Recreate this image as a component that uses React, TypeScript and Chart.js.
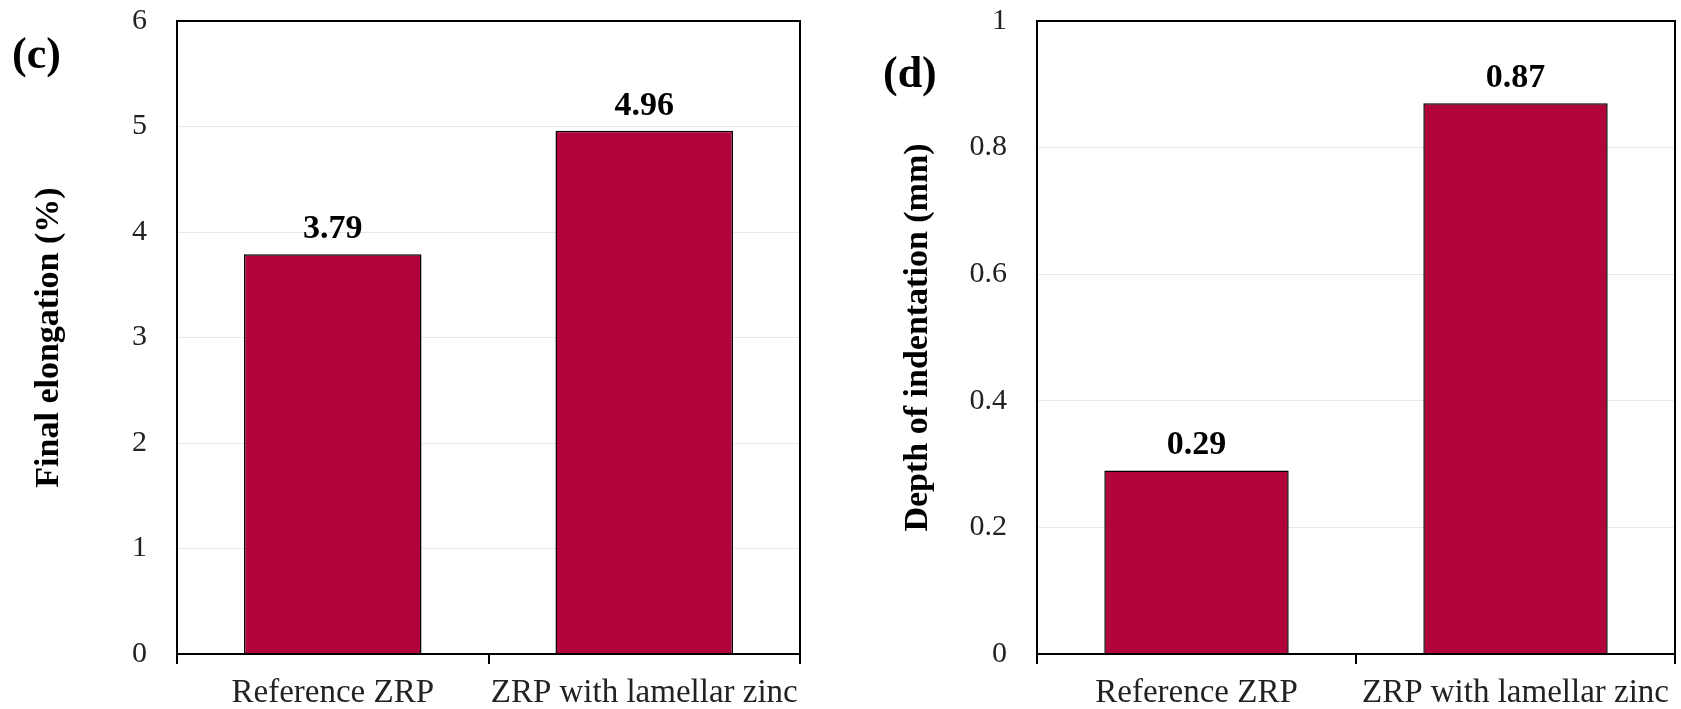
import React, { useEffect, useRef } from "react";
import { Chart, registerables } from "chart.js";

Chart.register(...registerables);

const categories = ["Reference ZRP", "ZRP with lamellar zinc"];
const elongationValues = [3.79, 4.96];
const indentationValues = [0.29, 0.87];
const elongationLabels = ["3.79", "4.96"];
const indentationLabels = ["0.29", "0.87"];

const SERIF = '"Liberation Serif", "Times New Roman", serif';
const BAR_COLOR = "#B0043A";

const framePlugin = {
  id: "frame",
  afterDraw(chart: any) {
    const { ctx, chartArea } = chart;
    ctx.save();
    ctx.strokeStyle = "#000";
    ctx.lineWidth = 2;
    ctx.strokeRect(chartArea.left, chartArea.top, chartArea.right - chartArea.left, chartArea.bottom - chartArea.top);
    ctx.restore();
  },
};

const valueLabelPlugin = {
  id: "valueLabels",
  afterDatasetsDraw(chart: any, _args: any, opts: any) {
    const { ctx } = chart;
    const meta = chart.getDatasetMeta(0);
    ctx.save();
    ctx.font = `bold 34px ${SERIF}`;
    ctx.fillStyle = "#000";
    ctx.textAlign = "center";
    ctx.textBaseline = "alphabetic";
    meta.data.forEach((bar: any, i: number) => {
      ctx.fillText(opts.labels[i], bar.x, bar.y - 16);
    });
    ctx.restore();
  },
};

const panelPlugin = {
  id: "panelLetter",
  afterDraw(chart: any, _args: any, opts: any) {
    const { ctx } = chart;
    ctx.save();
    ctx.font = `bold 44px ${SERIF}`;
    ctx.fillStyle = "#000";
    ctx.textAlign = "left";
    ctx.textBaseline = "alphabetic";
    ctx.fillText(opts.text, opts.x, opts.y);
    ctx.restore();
  },
};

type PanelProps = {
  width: number;
  values: number[];
  labels: string[];
  title: string;
  max: number;
  step: number;
  axisWidth: number;
  padRight: number;
  titlePad: number;
  barPct: number;
  letter: string;
  letterX: number;
  letterY: number;
};

function Panel(p: PanelProps) {
  const ref = useRef<HTMLCanvasElement | null>(null);
  useEffect(() => {
    if (!ref.current) return;
    const chart = new Chart(ref.current, {
      type: "bar",
      data: {
        labels: categories,
        datasets: [
          {
            data: p.values,
            backgroundColor: BAR_COLOR,
            borderColor: "#000",
            borderWidth: 1.5,
            barPercentage: p.barPct,
            categoryPercentage: 1,
          },
        ],
      },
      options: {
        responsive: false,
        animation: false,
        devicePixelRatio: 1,
        layout: { padding: { top: 21, right: p.padRight, left: 0, bottom: 0 } },
        plugins: {
          legend: { display: false },
          tooltip: { enabled: false },
          valueLabels: { labels: p.labels },
          panelLetter: { text: p.letter, x: p.letterX, y: p.letterY },
        } as any,
        scales: {
          x: {
            offset: true,
            grid: {
              display: true,
              drawOnChartArea: false,
              drawTicks: true,
              tickLength: 10,
              color: "#000",
              lineWidth: 2,
              offset: true,
            },
            border: { display: true, color: "#000", width: 2 },
            ticks: {
              font: { family: SERIF, size: 33 },
              color: "#222",
              padding: 10,
              maxRotation: 0,
              minRotation: 0,
              autoSkip: false,
            },
            afterFit: (scale: any) => {
              scale.height = 55;
              scale.paddingLeft = 0;
              scale.paddingRight = 0;
            },
          },
          y: {
            min: 0,
            max: p.max,
            ticks: {
              stepSize: p.step,
              font: { family: SERIF, size: 30 },
              color: "#222",
              padding: 30,
              callback: (v: any) => String(parseFloat(Number(v).toFixed(2))),
            },
            grid: { color: "#e8e8e8", lineWidth: 1, drawTicks: false },
            border: { display: true, color: "#000", width: 2 },
            title: {
              display: true,
              text: p.title,
              font: { family: SERIF, size: 34, weight: "bold" },
              color: "#000",
              padding: { top: p.titlePad, bottom: 0 },
            },
            afterFit: (scale: any) => {
              scale.width = p.axisWidth;
              scale.paddingTop = 0;
              scale.paddingBottom = 0;
            },
          },
        },
      },
      plugins: [framePlugin, valueLabelPlugin, panelPlugin],
    });
    return () => chart.destroy();
  }, []);
  return <canvas ref={ref} width={p.width} height={709} style={{ width: p.width, height: 709, display: "block" }} />;
}

export default function App() {
  return (
    <div style={{ position: "absolute", left: 0, top: 0, width: 1681, height: 709, background: "#fff", display: "flex" }}>
      <Panel
        width={840}
        values={elongationValues}
        labels={elongationLabels}
        title="Final elongation (%)"
        max={6}
        step={1}
        axisWidth={177}
        padRight={40}
        titlePad={29}
        barPct={0.57}
        letter="(c)"
        letterX={12}
        letterY={68}
      />
      <Panel
        width={841}
        values={indentationValues}
        labels={indentationLabels}
        title="Depth of indentation (mm)"
        max={1}
        step={0.2}
        axisWidth={197}
        padRight={6}
        titlePad={58}
        barPct={0.578}
        letter="(d)"
        letterX={43}
        letterY={87}
      />
    </div>
  );
}
